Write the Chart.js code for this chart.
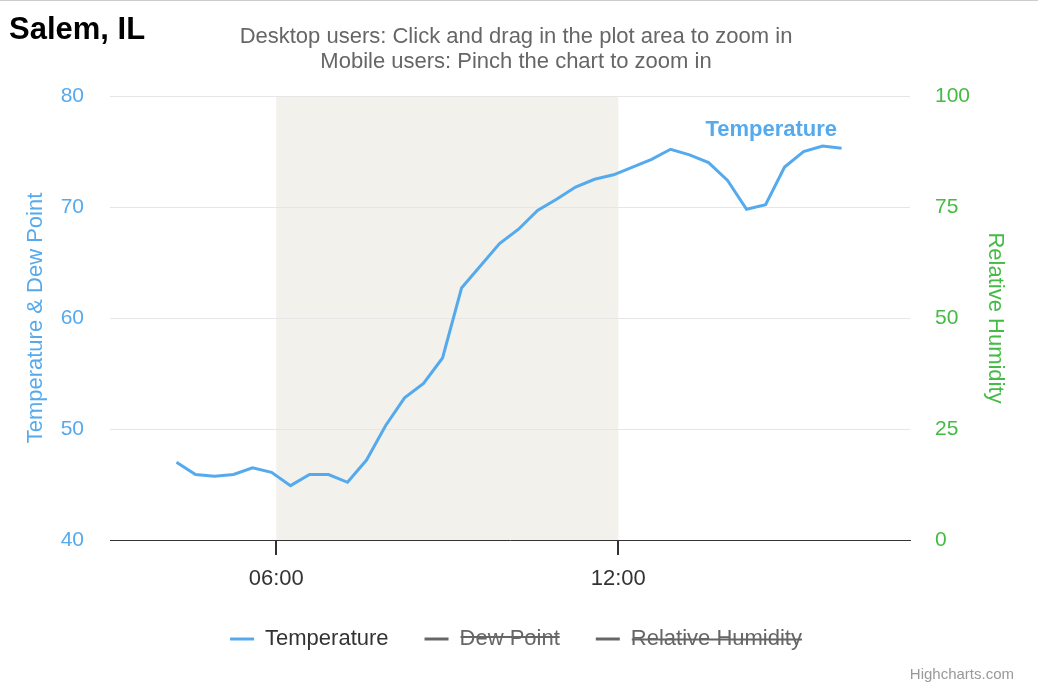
<!DOCTYPE html>
<html>
<head>
<meta charset="utf-8">
<script src="https://cdn.jsdelivr.net/npm/chart.js@4.4.1/dist/chart.umd.min.js"></script>
<style>
  html, body { margin: 0; padding: 0; background: #fff; }
  body { border-top: 1px solid #ccc; width: 1038px; height: 685px; position: relative; overflow: hidden; font-family: "Liberation Sans", Arial, sans-serif; }
  #wrap { position: absolute; left: 0; top: 0; width: 1038px; height: 685px; }
  #place { position: absolute; left: 9px; top: 10px; font-size: 31px; font-weight: bold; color: #000; }
  #credits { position: absolute; right: 24px; bottom: 4px; font-size: 15px; color: #999; }
</style>
</head>
<body>
<div id="wrap"><canvas id="myChart"></canvas></div>
<div id="place">Salem, IL</div>
<div id="credits">Highcharts.com</div>
<script>
// observation times (local) and readings
const times = ['04:15', '04:35', '04:55', '05:15', '05:35', '05:55', '06:15', '06:35', '06:55', '07:15',
    '07:35', '07:55', '08:15', '08:35', '08:55', '09:15', '09:35', '09:55', '10:15', '10:35',
    '10:55', '11:15', '11:35', '11:55', '12:15', '12:35', '12:55', '13:15', '13:35', '13:55',
    '14:15', '14:35', '14:55', '15:15', '15:35', '15:55'];
const temperature = [47.0, 45.9, 45.75, 45.9, 46.5, 46.1, 44.9, 45.9, 45.9, 45.2,
    47.2, 50.3, 52.8, 54.1, 56.4, 62.7, 64.7, 66.7, 68.0, 69.7,
    70.7, 71.8, 72.5, 72.9, 73.6, 74.3, 75.2, 74.7, 74.0, 72.4,
    69.8, 70.2, 73.6, 75.0, 75.5, 75.3];
const dewPoint = [];   // series switched off in the legend
const humidity = [];   // series switched off in the legend

const tempTicks = [40, 50, 60, 70, 80];
const rhTicks = [0, 25, 50, 75, 100];
const timeTicks = ['06:00', '12:00'];
const nightBand = ['06:00', '12:00'];
const xRange = ['03:05', '17:07'];

const blue = '#55aaee';
const green = '#44bb44';
const font = '"Liberation Sans", Arial, sans-serif';

function toMin(t) {
    const p = t.split(':');
    return (+p[0]) * 60 + (+p[1]);
}
function fmt(m) {
    const h = Math.floor(m / 60), mm = m % 60;
    return String(h).padStart(2, '0') + ':' + String(mm).padStart(2, '0');
}

const bandPlugin = {
    id: 'band',
    beforeDraw(chart) {
        const {ctx, chartArea, scales} = chart;
        const x1 = scales.x.getPixelForValue(toMin(nightBand[0]));
        const x2 = scales.x.getPixelForValue(toMin(nightBand[1]));
        ctx.save();
        ctx.fillStyle = '#f3f1ec';
        ctx.fillRect(x1, chartArea.top, x2 - x1, chartArea.bottom - chartArea.top);
        ctx.restore();
    }
};

const textPlugin = {
    id: 'texts',
    afterDatasetsDraw(chart) {
        const {ctx, scales} = chart;
        ctx.save();
        ctx.textAlign = 'center';
        ctx.textBaseline = 'middle';
        ctx.fillStyle = '#666';
        ctx.font = '22px ' + font;
        ctx.fillText('Desktop users: Click and drag in the plot area to zoom in', 516, 36);
        ctx.fillText('Mobile users: Pinch the chart to zoom in', 516, 61);
        // series label
        ctx.fillStyle = blue;
        ctx.font = 'bold 22px ' + font;
        ctx.fillText('Temperature', scales.x.getPixelForValue(toMin('14:41')), scales.y.getPixelForValue(76.9));
        ctx.restore();
    }
};

const ctx = document.getElementById('myChart');

new Chart(ctx, {
    type: 'line',
    data: {
        datasets: [{
            label: 'Temperature',
            data: times.map((t, i) => ({x: toMin(t), y: temperature[i]})),
            borderColor: blue,
            backgroundColor: blue,
            borderWidth: 3,
            pointRadius: 0,
            tension: 0,
            yAxisID: 'y'
        }, {
            label: 'Dew Point',
            data: times.map((t, i) => ({x: toMin(t), y: dewPoint[i]})),
            borderColor: '#666',
            backgroundColor: '#666',
            borderWidth: 3,
            pointRadius: 0,
            hidden: true,
            yAxisID: 'y'
        }, {
            label: 'Relative Humidity',
            data: times.map((t, i) => ({x: toMin(t), y: humidity[i]})),
            borderColor: '#666',
            backgroundColor: '#666',
            borderWidth: 3,
            pointRadius: 0,
            hidden: true,
            yAxisID: 'y1'
        }]
    },
    options: {
        responsive: true,
        maintainAspectRatio: false,
        animation: false,
        layout: {
            padding: { left: 0, right: 6, top: 95, bottom: 26 }
        },
        plugins: {
            legend: {
                position: 'bottom',
                onClick: null,
                labels: {
                    usePointStyle: true,
                    pointStyleWidth: 24,
                    padding: 36,
                    color: '#333',
                    font: { family: font, size: 22 },
                    generateLabels(chart) {
                        const items = Chart.defaults.plugins.legend.labels.generateLabels(chart);
                        items.forEach(it => {
                            if (it.hidden) {
                                it.strokeStyle = '#666';
                                it.fontColor = '#666';
                            } else {
                                it.fontColor = '#333';
                            }
                            it.pointStyle = 'line';
                            it.lineWidth = 3;
                        });
                        return items;
                    }
                }
            },
            tooltip: { enabled: false }
        },
        scales: {
            x: {
                type: 'linear',
                min: toMin(xRange[0]),
                max: toMin(xRange[1]),
                afterBuildTicks(axis) {
                    axis.ticks = timeTicks.map(t => ({value: toMin(t)}));
                },
                afterFit(axis) { axis.height = 52; },
                ticks: {
                    color: '#333',
                    font: { family: font, size: 22 },
                    padding: 11,
                    maxRotation: 0,
                    callback: v => fmt(v)
                },
                grid: {
                    drawOnChartArea: false,
                    drawTicks: true,
                    tickLength: 15,
                    color: '#333',
                    lineWidth: 2
                },
                border: { color: '#333', width: 1 }
            },
            y: {
                position: 'left',
                min: 40,
                max: 80,
                afterBuildTicks(axis) {
                    axis.ticks = tempTicks.map(v => ({value: v}));
                },
                afterFit(axis) { axis.width = 110; },
                ticks: {
                    color: blue,
                    font: { family: font, size: 21 },
                    padding: 26
                },
                grid: { color: '#e6e6e6', drawTicks: false },
                border: { display: false },
                title: {
                    display: true,
                    text: 'Temperature & Dew Point',
                    color: blue,
                    font: { family: font, size: 22 },
                    padding: { top: 23, bottom: 0 }
                }
            },
            y1: {
                position: 'right',
                min: 0,
                max: 100,
                afterBuildTicks(axis) {
                    axis.ticks = rhTicks.map(v => ({value: v}));
                },
                afterFit(axis) { axis.width = 122; },
                ticks: {
                    color: green,
                    font: { family: font, size: 21 },
                    padding: 25
                },
                grid: { display: false, drawTicks: false },
                border: { display: false },
                title: {
                    display: true,
                    text: 'Relative Humidity',
                    color: green,
                    font: { family: font, size: 22 },
                    padding: { top: 24, bottom: 0 }
                }
            }
        }
    },
    plugins: [bandPlugin, textPlugin]
});
</script>
</body>
</html>
